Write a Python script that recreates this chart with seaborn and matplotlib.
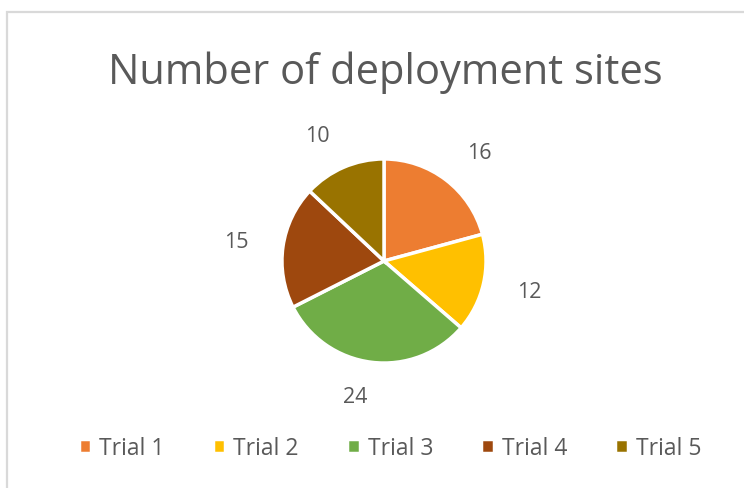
import matplotlib
matplotlib.use("Agg")
import seaborn as sns
from matplotlib import pyplot as plt
from matplotlib.patches import Rectangle

# Data
trials = ["Trial 1", "Trial 2", "Trial 3", "Trial 4", "Trial 5"]
sites = [16, 12, 24, 15, 10]
colors = ["#ED7D31", "#FFC000", "#70AD47", "#9E480E", "#997300"]

sns.set_theme(style="white")
plt.rcParams['font.family'] = ['Open Sans', 'DejaVu Sans']

fig = plt.figure(figsize=(7.44, 4.89), dpi=100)
W, H = 744, 489

# chart area border (only left/top visible in the crop)
fig.patches.append(Rectangle((7 / W, -0.2), 1.2, (H - 13) / H + 0.2,
                             transform=fig.transFigure, fill=False,
                             edgecolor="#D9D9D9", linewidth=1.6))

# pie axes, centred at (384, 262) px with radius ~102 px
cx, cy, half = 384, 262, 150
ax = fig.add_axes([(cx - half) / W, (H - cy - half) / H, 2 * half / W, 2 * half / H])
wedges, texts = ax.pie(sites, colors=colors, startangle=90, counterclock=False,
                       labels=[str(v) for v in sites], labeldistance=1.34,
                       wedgeprops=dict(edgecolor="white", linewidth=2.5),
                       textprops=dict(color="#595959", fontsize=15.5))
ax.set_xlim(-1.47, 1.47)
ax.set_ylim(-1.47, 1.47)
ax.set_aspect("equal")
ax.axis("off")

fig.text(385 / W, 1 - 73 / H, "Number of deployment sites", ha="center", va="center",
         fontsize=30, color="#595959")

fig.legend(wedges, trials, loc="center", bbox_to_anchor=(390 / W, 1 - 449 / H),
           ncol=5, frameon=False, fontsize=16.5, handlelength=0.55, handleheight=0.55,
           handletextpad=0.35, columnspacing=2.1, labelcolor="#595959")

fig.savefig("out.png", dpi=100)
